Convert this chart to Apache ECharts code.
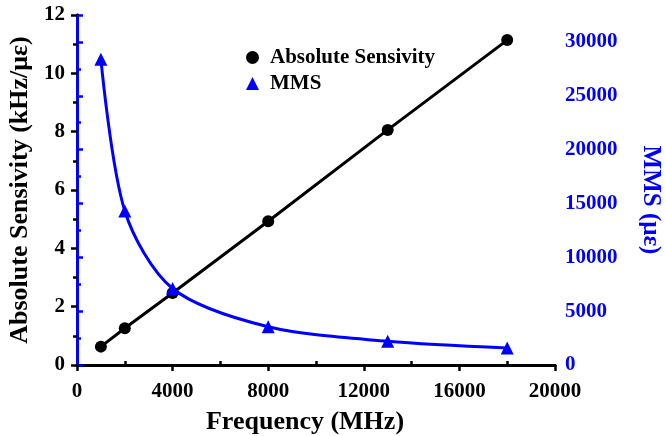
<!DOCTYPE html>
<html>
<head>
<meta charset="utf-8">
<script src="https://cdn.jsdelivr.net/npm/echarts@6/dist/echarts.min.js"></script>
<style>
  html, body { margin: 0; padding: 0; background: #fff; }
  #chart { width: 665px; height: 436px; }
</style>
</head>
<body>
<div id="chart"></div>
<script>
// data
const frequency = [1000, 2000, 4000, 8000, 13000, 18000];
const sensivity = [0.63, 1.26, 2.47, 4.93, 8.06, 11.14];
const mms = [28400, 14300, 7100, 3550, 2200, 1580];
const minorFreqTicks = [2000, 6000, 10000, 14000, 18000];

const FONT = '"Liberation Serif", "Times New Roman", serif';
const BLUE = '#0000ff';

const pairs = (xs, ys) => xs.map((x, i) => [x, ys[i]]);
const plain = v => String(v);

const chart = echarts.init(document.getElementById('chart'));
chart.setOption({
  animation: false,
  backgroundColor: '#fff',
  grid: { left: 77, right: 110, top: 15, bottom: 71, containLabel: false, outerBoundsMode: 'none' },
  legend: {
    orient: 'vertical',
    left: 241,
    top: 42,
    itemWidth: 13,
    itemHeight: 13,
    itemGap: 5,
    textStyle: { fontFamily: FONT, fontWeight: 'bold', fontSize: 21, color: '#000', padding: [0, 0, 0, 6] },
    data: [
      { name: 'Absolute Sensivity', icon: 'circle', itemStyle: { color: '#000' } },
      { name: 'MMS', icon: 'triangle', itemStyle: { color: BLUE } }
    ]
  },
  xAxis: [
    {
      type: 'value',
      min: 0, max: 20000, interval: 4000,
      name: 'Frequency (MHz)',
      nameLocation: 'middle',
      nameGap: 44,
      nameTextStyle: { fontFamily: FONT, fontWeight: 'bold', fontSize: 26, color: '#000', padding: [0, 22, 0, 0] },
      axisLine: { onZero: false, lineStyle: { color: '#000', width: 3 } },
      axisTick: { length: 6, lineStyle: { width: 2.5, color: '#000' } },
      axisLabel: { margin: 16, formatter: plain, fontFamily: FONT, fontWeight: 'bold', fontSize: 21, color: '#000' },
      splitLine: { show: false }
    },
    {
      type: 'value',
      position: 'top',
      min: 0, max: 20000,
      axisLine: { show: true, lineStyle: { color: '#000', width: 3 } },
      axisTick: { show: false },
      axisLabel: { show: false },
      splitLine: { show: false }
    },
    {
      type: 'value',
      position: 'bottom',
      min: 0, max: 20000,
      axisLine: { show: false },
      axisTick: { inside: true, length: 4, customValues: minorFreqTicks, lineStyle: { width: 2.5, color: '#000' } },
      axisLabel: { show: false },
      splitLine: { show: false }
    }
  ],
  yAxis: [
    {
      type: 'value',
      min: 0, max: 12, interval: 2,
      name: 'Absolute Sensivity (kHz/με)',
      nameLocation: 'middle',
      nameGap: 40,
      nameTextStyle: { fontFamily: FONT, fontWeight: 'bold', fontSize: 26, color: '#000' },
      axisLine: { show: true, lineStyle: { color: '#000', width: 3 } },
      axisTick: { length: 6, lineStyle: { width: 2.5, color: '#000' } },
      minorTick: { show: true, splitNumber: 2, length: 4, lineStyle: { width: 2.5, color: '#000' } },
      axisLabel: { margin: 12, fontFamily: FONT, fontWeight: 'bold', fontSize: 21, color: '#000' },
      splitLine: { show: false }
    },
    {
      type: 'value',
      position: 'right',
      min: 0, max: 32500, interval: 5000,
      name: 'MMS (με)',
      nameLocation: 'middle',
      nameRotate: -90,
      nameGap: 83,
      nameTextStyle: { fontFamily: FONT, fontWeight: 'bold', fontSize: 25, color: BLUE, padding: [0, 0, 0, 20] },
      axisLine: { show: true, lineStyle: { color: BLUE, width: 3 } },
      axisTick: { length: 6, lineStyle: { width: 2.5, color: BLUE } },
      minorTick: { show: true, splitNumber: 2, length: 4, lineStyle: { width: 2.5, color: BLUE } },
      axisLabel: { margin: 10, showMaxLabel: false, formatter: plain, fontFamily: FONT, fontWeight: 'bold', fontSize: 21, color: BLUE },
      splitLine: { show: false }
    }
  ],
  series: [
    {
      name: 'Absolute Sensivity',
      type: 'line',
      xAxisIndex: 0,
      yAxisIndex: 0,
      data: pairs(frequency, sensivity),
      symbol: 'circle',
      symbolSize: 12,
      itemStyle: { color: '#000' },
      lineStyle: { color: '#000', width: 3 },
      z: 3
    },
    {
      name: 'MMS',
      type: 'line',
      xAxisIndex: 0,
      yAxisIndex: 1,
      data: pairs(frequency, mms),
      smooth: 0.3,
      symbol: 'triangle',
      symbolSize: 13,
      itemStyle: { color: BLUE },
      lineStyle: { color: BLUE, width: 3 },
      z: 4
    }
  ]
});
</script>
</body>
</html>
